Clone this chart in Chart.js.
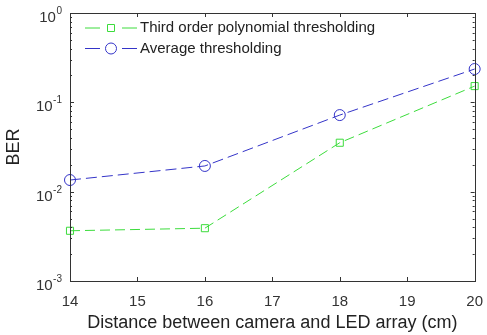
<!DOCTYPE html>
<html><head><meta charset="utf-8">
<script src="https://cdn.jsdelivr.net/npm/chart.js@4"></script>
<style>html,body{margin:0;padding:0;background:#fff}#wrap{width:487px;height:335px}</style>
</head><body><div id="wrap"><canvas id="c" width="487" height="335"></canvas></div>
<script>
const distances = [14, 16, 18, 20];
const thirdOrderBER = [0.00365, 0.0039, 0.0353, 0.152];
const averageBER = [0.0135, 0.0194, 0.072, 0.236];
const seriesLabels = ['Third order polynomial thresholding', 'Average thresholding'];
const xTicks = [14, 15, 16, 17, 18, 19, 20];
const yDecades = [1e-3, 1e-2, 1e-1, 1];
const FONT = '"Liberation Sans", Arial, sans-serif';

const frame = {
  id: 'frame',
  afterDatasetsDraw(chart) {
    const ctx = chart.ctx, a = chart.chartArea;
    const xs = chart.scales.x, ys = chart.scales.y;
    ctx.save();
    ctx.strokeStyle = '#333'; ctx.lineWidth = 1;
    ctx.strokeRect(Math.round(a.left)+0.5, Math.round(a.top)+0.5, Math.round(a.right-a.left), Math.round(a.bottom-a.top));
    ctx.beginPath();
    xTicks.forEach(v => {
      const px = Math.round(xs.getPixelForValue(v)) + 0.5;
      ctx.moveTo(px, a.bottom); ctx.lineTo(px, a.bottom - 4);
      ctx.moveTo(px, a.top); ctx.lineTo(px, a.top + 4);
    });
    for (let d = -3; d < 0; d++) {
      for (let m = 1; m <= 9; m++) {
        const v = m * Math.pow(10, d);
        const py = Math.round(ys.getPixelForValue(v)) + 0.5;
        const len = m === 1 ? 4 : 2;
        ctx.moveTo(a.left, py); ctx.lineTo(a.left + len, py);
        ctx.moveTo(a.right, py); ctx.lineTo(a.right - len, py);
      }
    }
    ctx.stroke();
    // y tick labels 10^n
    ctx.fillStyle = '#333'; ctx.textBaseline = 'alphabetic';
    yDecades.forEach(v => {
      const py = ys.getPixelForValue(v);
      const e = String(Math.round(Math.log10(v)));
      ctx.font = '10px ' + FONT; ctx.textAlign = 'left';
      const ew = ctx.measureText(e).width;
      const ex = 62 - ew;
      ctx.fillText(e, ex, py + 1);
      ctx.font = '15px ' + FONT; ctx.textAlign = 'right';
      ctx.fillText('10', ex - 0.5, py + 9);
    });
    // legend
    const ds = chart.data.datasets;
    ds.forEach((d, i) => {
      const y = a.top + 15 + i * 20.5;
      const x0 = 85;
      ctx.strokeStyle = d.borderColor; ctx.lineWidth = 1;
      ctx.beginPath();
      ctx.moveTo(x0, y); ctx.lineTo(x0 + 15, y);
      ctx.moveTo(x0 + 37, y); ctx.lineTo(x0 + 52, y);
      ctx.stroke();
      ctx.beginPath();
      if (d.pointStyle === 'rect') { ctx.rect(x0 + 22.5, y - 3.5, 7, 7); }
      else { ctx.arc(x0 + 26, y, 5.5, 0, Math.PI * 2); }
      ctx.stroke();
      ctx.fillStyle = '#222'; ctx.font = '15px ' + FONT;
      ctx.textBaseline = 'middle'; ctx.textAlign = 'left';
      ctx.fillText(d.label, x0 + 55, y);
    });
    ctx.restore();
  }
};

new Chart(document.getElementById('c'), {
  type: 'line',
  data: {
    datasets: [
      { label: seriesLabels[0], data: distances.map((x, i) => ({x, y: thirdOrderBER[i]})),
        borderColor: '#3cdc3c', backgroundColor: 'rgba(0,0,0,0)', borderWidth: 1, borderDash: [10, 5],
        pointStyle: 'rect', pointRadius: 5, pointBorderWidth: 1, pointBorderColor: '#3cdc3c', pointBackgroundColor: 'rgba(0,0,0,0)' },
      { label: seriesLabels[1], data: distances.map((x, i) => ({x, y: averageBER[i]})),
        borderColor: '#3434c8', backgroundColor: 'rgba(0,0,0,0)', borderWidth: 1, borderDash: [11, 5],
        pointStyle: 'circle', pointRadius: 5.5, pointBorderWidth: 1, pointBorderColor: '#3434c8', pointBackgroundColor: 'rgba(0,0,0,0)' }
    ]
  },
  options: {
    responsive: false, animation: false, clip: false,
    layout: { padding: { top: 13, right: 7, left: 0, bottom: 0 } },
    plugins: { legend: { display: false }, tooltip: { enabled: false } },
    scales: {
      x: {
        type: 'linear', min: 14, max: 20,
        grid: { display: false }, border: { display: false },
        afterBuildTicks(s) { s.ticks = xTicks.map(v => ({value: v})); },
        afterFit(s) { s.height = 54; },
        ticks: { color: '#333', font: { family: FONT, size: 15 }, padding: 4, maxRotation: 0 },
        title: { display: true, text: 'Distance between camera and LED array (cm)', color: '#222',
          font: { family: FONT, size: 18 }, padding: { top: 0, bottom: 1 } }
      },
      y: {
        type: 'logarithmic', min: 1e-3, max: 1,
        grid: { display: false }, border: { display: false },
        afterBuildTicks(s) { s.ticks = yDecades.map(v => ({value: v, major: true})); },
        afterFit(s) { s.width = 70; },
        ticks: { display: false },
        title: { display: true, text: 'BER', color: '#222', font: { family: FONT, size: 18 }, padding: { top: 3, bottom: 0 } }
      }
    }
  },
  plugins: [frame]
});
</script></body></html>
